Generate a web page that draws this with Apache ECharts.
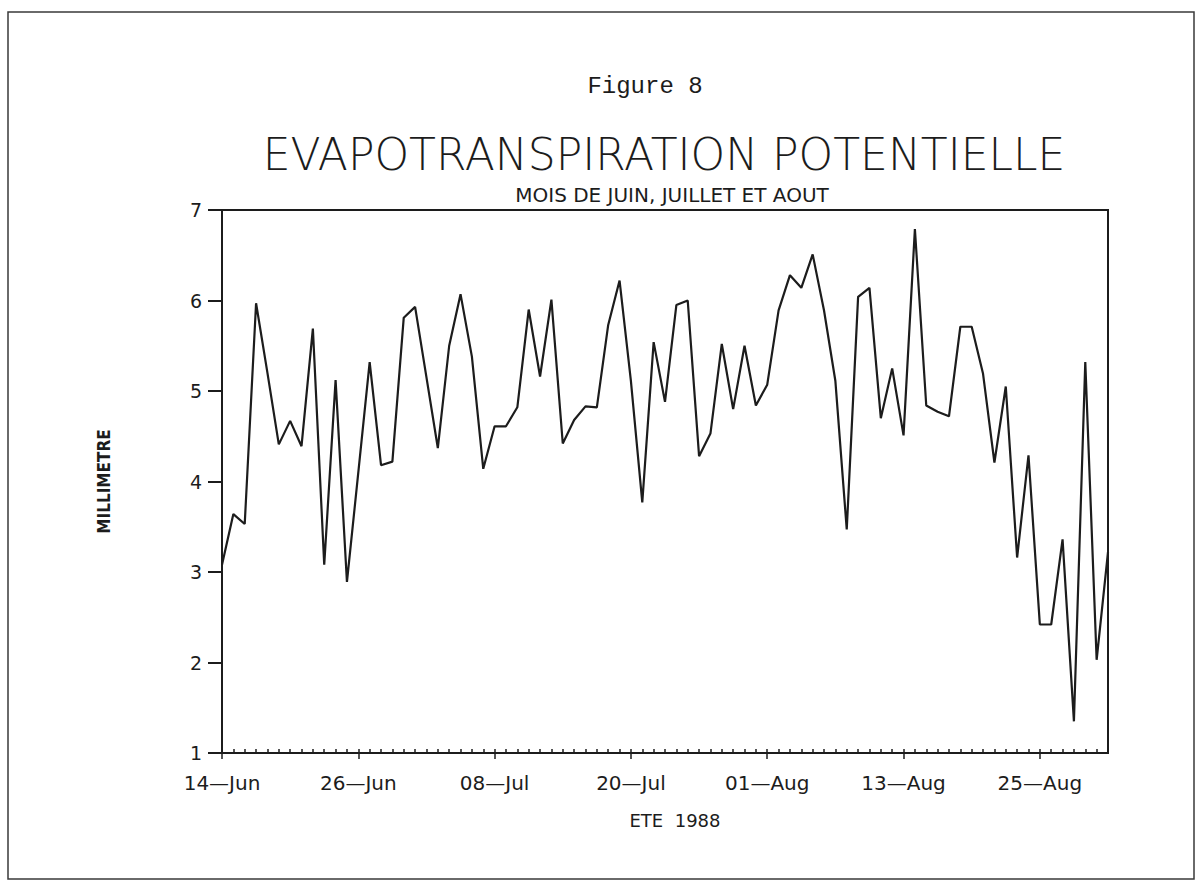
<!DOCTYPE html>
<html>
<head>
<meta charset="utf-8">
<script src="https://cdn.jsdelivr.net/npm/echarts@6/dist/echarts.min.js"></script>
<style>
html,body{margin:0;padding:0;background:#fff;}
#chart{width:1197px;height:884px;}
</style>
</head>
<body>
<div id="chart"></div>
<script>
// Daily potential evapotranspiration, 14 June – 31 August 1988 (mm)
const startDate = [1988, 5, 14]; // year, month index (June), day
const dayCount = 79;
const monthNames = ['Jan','Feb','Mar','Apr','May','Jun','Jul','Aug','Sep','Oct','Nov','Dec'];
const etpValues = [
  3.08, 3.64, 3.53, 5.97, 5.20, 4.41, 4.67, 4.39, 5.69, 3.08,
  5.12, 2.89, 4.10, 5.32, 4.18, 4.22, 5.81, 5.93, 5.15, 4.37,
  5.50, 6.07, 5.38, 4.14, 4.61, 4.61, 4.82, 5.90, 5.16, 6.01,
  4.42, 4.68, 4.83, 4.82, 5.73, 6.22, 5.11, 3.77, 5.54, 4.88,
  5.95, 6.00, 4.28, 4.53, 5.52, 4.80, 5.50, 4.84, 5.07, 5.89,
  6.28, 6.14, 6.51, 5.89, 5.11, 3.47, 6.04, 6.14, 4.70, 5.25,
  4.51, 6.79, 4.84, 4.77, 4.72, 5.71, 5.71, 5.19, 4.21, 5.05,
  3.16, 4.29, 2.42, 2.42, 3.36, 1.35, 5.32, 2.03, 3.22
];
const yTicks = [1, 2, 3, 4, 5, 6, 7];
const labelEvery = 12;

const figureLabel = 'Figure 8';
const titleText = 'EVAPOTRANSPIRATION POTENTIELLE';
const subtitleText = 'MOIS DE JUIN, JUILLET ET AOUT';
const yName = 'MILLIMETRE';
const xName = 'ETE  1988';

const days = [];
for (let i = 0; i < dayCount; i++) {
  const d = new Date(startDate[0], startDate[1], startDate[2] + i);
  const dd = String(d.getDate()).padStart(2, '0');
  days.push(dd + '—' + monthNames[d.getMonth()]);
}

const ink = '#1c1c1c';
const chart = echarts.init(document.getElementById('chart'), null, {renderer: 'svg'});
chart.setOption({
  backgroundColor: '#ffffff',
  animation: false,
  graphic: [
    {type: 'rect', silent: true, shape: {x: 8, y: 12, width: 1186, height: 867},
     style: {fill: 'none', stroke: '#3a3a3a', lineWidth: 1.5}},
    {type: 'text', silent: true,
     style: {x: 645, y: 86, text: figureLabel, fill: ink, font: '24px "Liberation Mono"', textAlign: 'center', textVerticalAlign: 'middle'}},
    {type: 'text', silent: true,
     style: {x: 664, y: 154, text: titleText, fill: ink, font: '200 44px "DejaVu Sans"', textAlign: 'center', textVerticalAlign: 'middle'}},
    {type: 'text', silent: true,
     style: {x: 672, y: 195, text: subtitleText, fill: ink, font: '20px "DejaVu Sans"', textAlign: 'center', textVerticalAlign: 'middle'}}
  ],
  grid: {left: 222, right: 89, top: 210, bottom: 131, show: true, borderColor: ink, borderWidth: 2, containLabel: false},
  xAxis: [
    {
      type: 'category', data: days, boundaryGap: false,
      name: xName, nameLocation: 'middle', nameGap: 58,
      nameTextStyle: {color: ink, fontFamily: 'DejaVu Sans', fontSize: 18, padding: [0, 0, 0, 20]},
      axisLine: {show: true, lineStyle: {color: ink, width: 2}},
      axisTick: {show: true, inside: true, interval: 0, length: 4, lineStyle: {color: ink, width: 1.5}},
      axisLabel: {show: true, interval: labelEvery - 1, margin: 20, color: ink, fontFamily: 'DejaVu Sans', fontSize: 20},
      splitLine: {show: false}
    },
    {
      type: 'category', data: days, boundaryGap: false, position: 'bottom',
      axisLine: {show: false},
      axisTick: {show: true, inside: false, interval: labelEvery - 1, length: 6, lineStyle: {color: ink, width: 1.5}},
      axisLabel: {show: false},
      splitLine: {show: false}
    }
  ],
  yAxis: {
    type: 'value', min: yTicks[0], max: yTicks[yTicks.length - 1], interval: 1,
    name: yName, nameLocation: 'middle', nameRotate: 90, nameGap: 110,
    nameTextStyle: {color: ink, fontFamily: 'DejaVu Sans Condensed', fontWeight: 'bold', fontSize: 17},
    axisLine: {show: true, lineStyle: {color: ink, width: 2}},
    axisTick: {show: true, inside: false, length: 14, lineStyle: {color: ink, width: 2}},
    axisLabel: {margin: 20, color: ink, fontFamily: 'DejaVu Sans', fontSize: 19},
    splitLine: {show: false}
  },
  series: [{
    type: 'line', data: etpValues, xAxisIndex: 0, yAxisIndex: 0,
    symbol: 'none', lineStyle: {color: ink, width: 2.2}
  }]
});
</script>
</body>
</html>
